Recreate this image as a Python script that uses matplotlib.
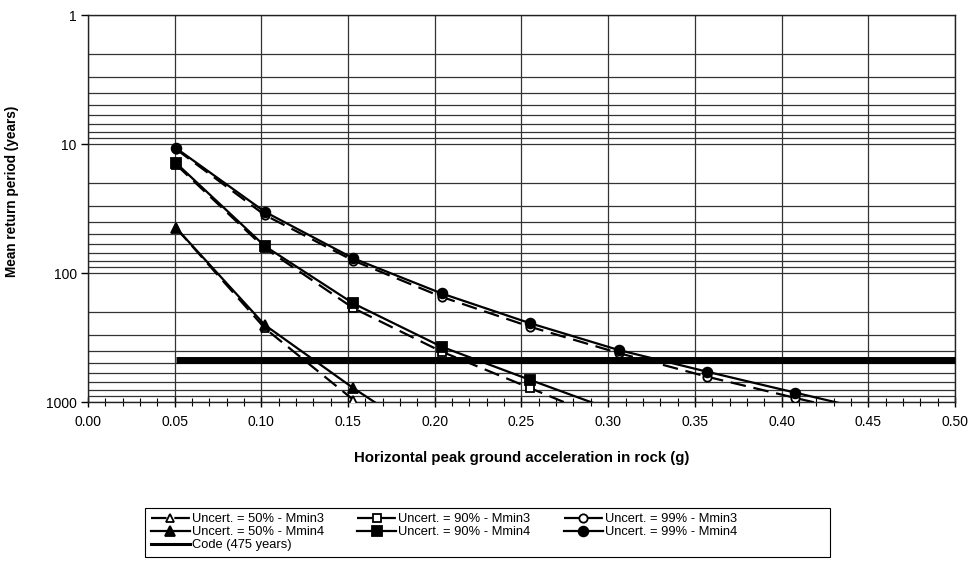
"""Mean return period vs horizontal peak ground acceleration (hazard curves)."""

import matplotlib.pyplot as plt
from matplotlib.patches import Rectangle
from matplotlib.ticker import LogLocator, FixedLocator, MultipleLocator, NullFormatter

plt.rcParams['font.family'] = ['Liberation Sans', 'DejaVu Sans']

# accelerations: 0.5 ... 4.5 m/s2 expressed in g
pga = [0.051, 0.102, 0.153, 0.204, 0.255, 0.306, 0.357, 0.408, 0.459]

# mean return period (years); values past 1000 only set where the line leaves the chart
u50_mmin3 = [45, 268, 960, 3000]
u50_mmin4 = [45, 253, 780, 2200]
u90_mmin3 = [14.5, 64, 187, 407, 780, 1500]
u90_mmin4 = [14.1, 61.8, 172, 373, 674, 1200]
u99_mmin3 = [11.0, 35.5, 80, 153, 261, 417, 636, 930, 1350]
u99_mmin4 = [10.8, 33.5, 76.9, 144, 245, 395, 582, 847, 1230]

code_x = [0.051, 0.50]
code_rp = [475, 475]

fig = plt.figure(figsize=(9.7, 5.61), dpi=100)
ax = fig.add_axes([0.0907, 0.2834, 0.8938, 0.6896])

series = [
    (u50_mmin3, '--', '^', 'white', 'Uncert. = 50% - Mmin3'),
    (u50_mmin4, '-', '^', 'black', 'Uncert. = 50% - Mmin4'),
    (None, None, None, None, 'Code (475 years)'),
    (u90_mmin3, '--', 's', 'white', 'Uncert. = 90% - Mmin3'),
    (u90_mmin4, '-', 's', 'black', 'Uncert. = 90% - Mmin4'),
    (u99_mmin3, '--', 'o', 'white', 'Uncert. = 99% - Mmin3'),
    (u99_mmin4, '-', 'o', 'black', 'Uncert. = 99% - Mmin4'),
]

handles = []
for vals, ls, mk, fc, label in series:
    if vals is None:
        ax.plot(code_x, code_rp, color='black', lw=5, solid_capstyle='butt',
                zorder=4, clip_on=False)
        # thinner copy only for the legend
        h, = ax.plot([], [], color='black', lw=2.2, label=label)
    else:
        h, = ax.plot(pga[:len(vals)], vals, color='black', ls=ls, lw=1.6,
                     marker=mk, markersize=7 if fc == 'black' else 6,
                     markerfacecolor=fc, markeredgecolor='black',
                     markeredgewidth=1.3, dashes=(7, 3.5) if ls == '--' else (None, None),
                     label=label, zorder=5)
    handles.append(h)

ax.set_yscale('log')
ax.set_ylim(1000, 1)
ax.set_xlim(0, 0.5)

ax.yaxis.set_major_locator(FixedLocator([1, 10, 100, 1000]))
ax.set_yticklabels(['1', '10', '100', '1000'])
ax.yaxis.set_minor_locator(LogLocator(base=10, subs=range(2, 10)))
ax.yaxis.set_minor_formatter(NullFormatter())

ax.xaxis.set_major_locator(MultipleLocator(0.05))
ax.xaxis.set_minor_locator(MultipleLocator(0.01))
ax.set_xticklabels([f'{v:.2f}' for v in ax.get_xticks()])

ax.grid(which='major', axis='x', color='#333333', lw=0.9)
ax.grid(which='both', axis='y', color='#333333', lw=0.9)

ax.tick_params(axis='x', which='major', direction='inout', length=7, width=1,
               labelsize=10, pad=6)
ax.tick_params(axis='x', which='minor', direction='inout', length=6, width=0.8)
ax.tick_params(axis='y', which='major', direction='out', length=5, width=1,
               labelsize=10, pad=3)
ax.tick_params(axis='y', which='minor', length=0)

for s in ax.spines.values():
    s.set_color('#222222')
    s.set_linewidth(1.0)

ax.set_xlabel('Horizontal peak ground acceleration in rock (g)', fontsize=10.8,
              fontweight='bold', labelpad=16)
ax.set_ylabel('Mean return period (years)', fontsize=9.8, fontweight='bold')
ax.yaxis.set_label_coords(-0.08, 0.545)

leg = fig.legend(handles=handles, loc='upper left',
                 bbox_to_anchor=(142 / 970, 1 - 504 / 561),
                 ncol=3, fontsize=9.3, frameon=False, handlelength=3.0,
                 columnspacing=2.6, labelspacing=0.08, borderpad=0.2,
                 handletextpad=0.15)

# legend box is wider than its entries in the original
fig.patches.append(Rectangle((145 / 970, 1 - 557 / 561), 685 / 970, 49 / 561,
                             transform=fig.transFigure, fill=False,
                             edgecolor='black', lw=0.8))

fig.savefig('out.png', dpi=100)
